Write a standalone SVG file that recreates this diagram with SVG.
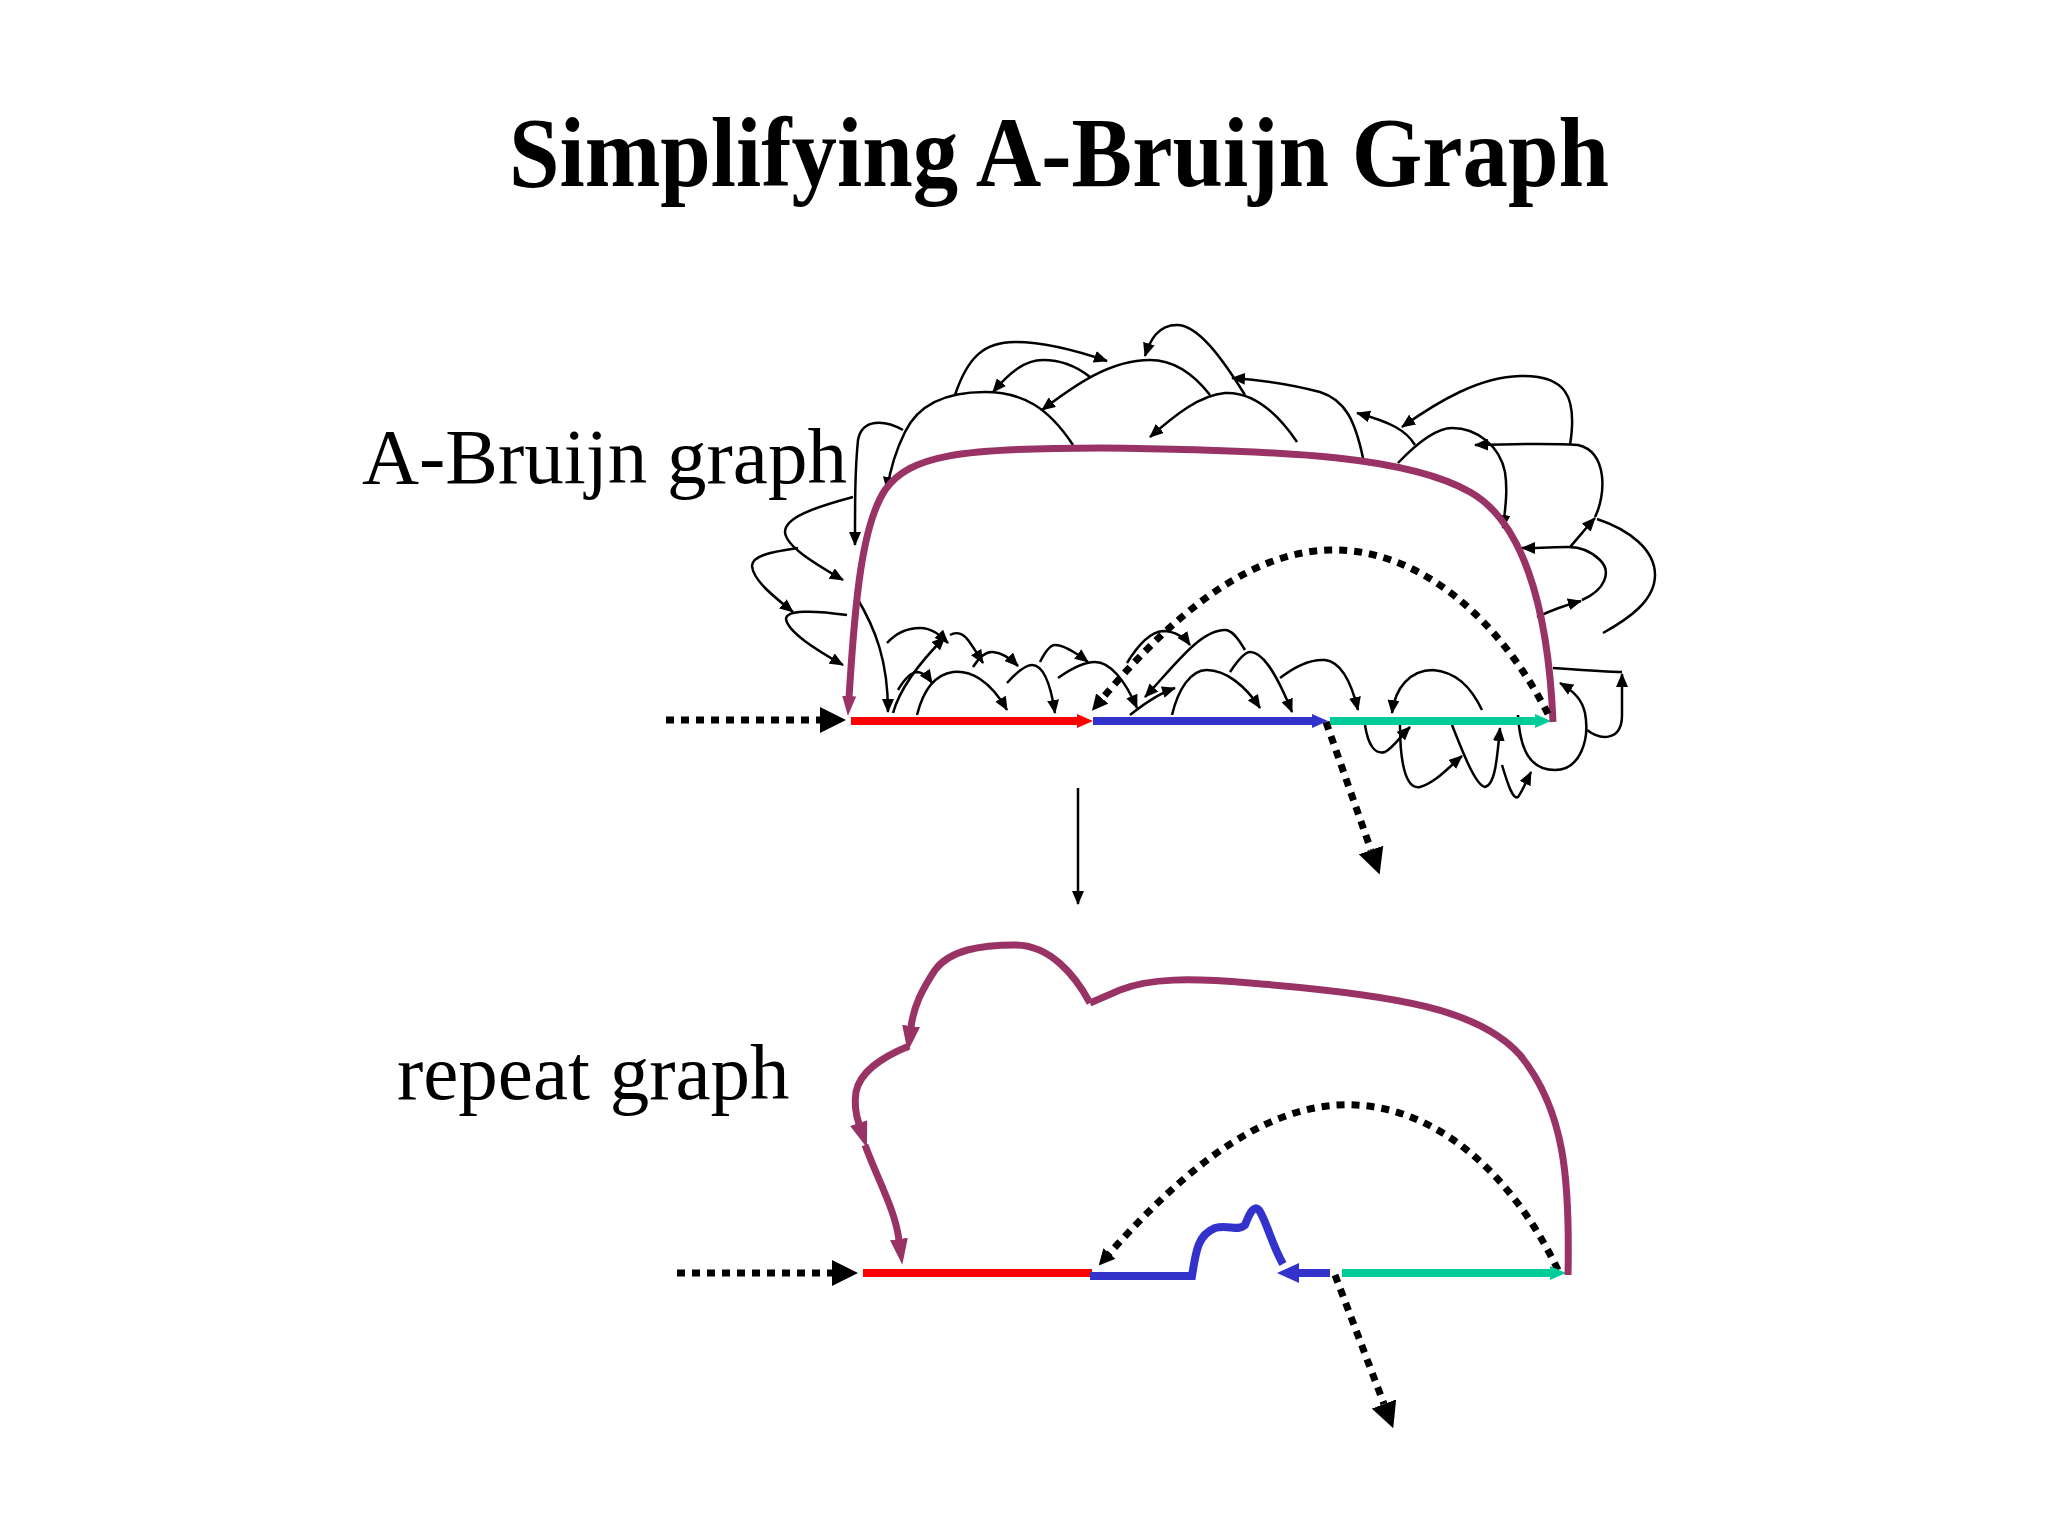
<svg xmlns="http://www.w3.org/2000/svg" width="2048" height="1536" viewBox="0 0 2048 1536">
<defs>
<style>
.t{fill:none;stroke:#000;stroke-width:2.5;marker-end:url(#ah)}
.tn{fill:none;stroke:#000;stroke-width:2.5}
.dot{fill:none;stroke:#000;stroke-width:7;stroke-dasharray:8 7}
.pur{fill:none;stroke:#993366;stroke-width:7}
.lbl{font-family:"Liberation Serif","Times New Roman",serif;font-size:79px;fill:#000}
</style>
<marker id="ah" viewBox="0 0 14 12" refX="13" refY="6" markerWidth="14" markerHeight="12" markerUnits="userSpaceOnUse" orient="auto"><path d="M0,0 L14,6 L0,12 z" fill="#000"/></marker>
<marker id="ahd" viewBox="0 0 26 26" refX="0" refY="13" markerWidth="26" markerHeight="26" markerUnits="userSpaceOnUse" orient="auto"><path d="M0,0 L26,13 L0,26 z" fill="#000"/></marker>
<marker id="ahs" viewBox="0 0 16 16" refX="2" refY="8" markerWidth="16" markerHeight="16" markerUnits="userSpaceOnUse" orient="auto"><path d="M0,0 L16,8 L0,16 z" fill="#000"/></marker>
<marker id="ahp" viewBox="0 0 20 14" refX="2" refY="7" markerWidth="20" markerHeight="14" markerUnits="userSpaceOnUse" orient="auto"><path d="M0,0 L20,7 L0,14 z" fill="#993366"/></marker>
<marker id="ahp2" viewBox="0 0 26 18" refX="1" refY="9" markerWidth="26" markerHeight="18" markerUnits="userSpaceOnUse" orient="auto"><path d="M0,0 L26,9 L0,18 z" fill="#993366"/></marker>
<marker id="ahr" viewBox="0 0 16 14" refX="0" refY="7" markerWidth="16" markerHeight="14" markerUnits="userSpaceOnUse" orient="auto"><path d="M0,0 L16,7 L0,14 z" fill="#ff0000"/></marker>
<marker id="ahb" viewBox="0 0 16 14" refX="0" refY="7" markerWidth="16" markerHeight="14" markerUnits="userSpaceOnUse" orient="auto"><path d="M0,0 L16,7 L0,14 z" fill="#3333cc"/></marker>
<marker id="ahb2" viewBox="0 0 22 20" refX="1" refY="10" markerWidth="22" markerHeight="20" markerUnits="userSpaceOnUse" orient="auto"><path d="M0,0 L22,10 L0,20 z" fill="#3333cc"/></marker>
<marker id="aht" viewBox="0 0 16 14" refX="0" refY="7" markerWidth="16" markerHeight="14" markerUnits="userSpaceOnUse" orient="auto"><path d="M0,0 L16,7 L0,14 z" fill="#00cc99"/></marker>
</defs>
<rect width="2048" height="1536" fill="#fff"/>

<g id="title"><text x="1059" y="186" text-anchor="middle" textLength="1100" lengthAdjust="spacingAndGlyphs" style="font-family:'Liberation Serif','Times New Roman',serif;font-size:100px;font-weight:bold">Simplifying A-Bruijn Graph</text></g>
<g id="label-abruijn"><text class="lbl" x="362" y="483">A-Bruijn graph</text></g>
<g id="label-repeat"><text class="lbl" x="397" y="1099">repeat graph</text></g>

<g id="abruijn-graph">
<g id="thin-edges">
<path class="t" d="M955,395 C968,356 985,342 1015,342 C1045,342 1075,350 1107,361"/>
<path class="t" d="M1090,377 C1075,365 1060,360 1043,360 C1025,360 1010,372 993,392"/>
<path class="t" d="M1073,445 C1048,407 1022,392 985,392 C945,392 918,405 905,432 C895,452 890,470 887,490"/>
<path class="t" d="M1210,395 C1192,372 1172,360 1150,360 C1110,360 1075,385 1042,410"/>
<path class="t" d="M1297,442 C1272,405 1248,392 1225,393 C1200,395 1175,415 1150,437"/>
<path class="t" d="M1245,395 C1222,358 1198,325 1177,325 C1158,325 1150,340 1145,356"/>
<path class="t" d="M903,430 C885,420 862,418 858,440 C855,470 855,500 855,545"/>
<path class="t" d="M853,497 C812,508 785,518 785,532 C786,546 812,562 843,580"/>
<path class="t" d="M798,548 C770,552 752,556 752,566 C753,580 773,596 793,612"/>
<path class="t" d="M847,615 C812,610 786,610 786,619 C788,632 815,649 843,665"/>
<path class="t" d="M857,598 C875,628 888,660 888,712"/>
<path class="t" d="M1363,458 C1355,420 1345,400 1320,392 C1290,384 1262,380 1232,378"/>
<path class="t" d="M1415,445 C1406,430 1390,422 1357,413"/>
<path class="t" d="M1570,445 C1578,395 1565,375 1520,376 C1480,377 1440,400 1402,427"/>
<path class="t" d="M1398,463 C1420,440 1438,428 1452,428 C1478,428 1500,447 1505,472 C1508,492 1505,510 1503,528"/>
<path class="t" d="M1595,517 C1606,495 1608,452 1578,445 C1550,443 1510,444 1475,445"/>
<path class="t" d="M1582,600 C1605,590 1612,572 1600,560 C1590,550 1580,547 1568,547 C1555,547 1540,548 1522,548"/>
<path class="t" d="M1570,547 C1578,538 1586,528 1595,518"/>
<path class="t" d="M1537,617 C1552,610 1566,605 1581,601"/>
<path class="tn" d="M1603,633 C1630,618 1655,600 1655,575 C1655,550 1630,530 1597,519"/>
<path class="tn" d="M1553,668 C1580,670 1605,672 1622,672"/>
<path class="t" d="M1587,730 C1600,740 1622,742 1622,715 L1622,674"/>
<path class="t" d="M1518,715 C1520,750 1530,770 1555,770 C1580,770 1590,740 1585,713 C1582,700 1575,692 1560,683"/>
<path class="t" d="M1482,710 C1470,685 1455,672 1433,670 C1410,670 1395,688 1392,713"/>
<path class="t" d="M1365,725 C1368,745 1375,755 1385,752 C1393,748 1400,737 1410,727"/>
<path class="t" d="M1400,725 C1400,760 1405,790 1420,787 C1435,783 1448,768 1462,756"/>
<path class="t" d="M1452,725 C1462,750 1475,785 1485,787 C1495,785 1497,760 1500,728"/>
<path class="t" d="M1502,765 C1508,785 1513,800 1518,797 C1522,792 1526,782 1531,772"/>
<path class="t" d="M887,643 C897,632 908,628 920,628 C932,628 940,635 948,643"/>
<path class="t" d="M893,713 C898,695 910,672 945,637"/>
<path class="t" d="M950,635 C955,632 962,632 968,640 C974,648 978,655 983,663"/>
<path class="t" d="M973,667 C980,656 986,651 993,652 C1003,653 1010,658 1018,666"/>
<path class="t" d="M898,690 C905,678 912,672 918,672 C924,673 928,677 932,683"/>
<path class="t" d="M917,715 C922,695 932,675 953,672 C970,670 990,680 1007,710"/>
<path class="t" d="M1007,683 C1017,672 1025,665 1032,665 C1042,665 1050,680 1055,713"/>
<path class="t" d="M1040,662 C1045,652 1050,645 1055,645 C1062,645 1075,652 1088,662"/>
<path class="t" d="M1058,678 C1072,668 1085,662 1095,662 C1110,662 1125,680 1137,708"/>
<path class="t" d="M1127,663 C1138,645 1150,632 1163,631 C1175,631 1185,638 1190,645"/>
<path class="t" d="M1130,715 C1145,703 1160,693 1175,688"/>
<path class="t" d="M1245,650 C1238,638 1232,630 1225,630 C1200,630 1175,665 1145,697"/>
<path class="t" d="M1172,715 C1178,690 1190,670 1207,670 C1225,670 1245,685 1260,708"/>
<path class="t" d="M1230,672 C1238,660 1245,652 1250,652 C1262,652 1275,670 1292,712"/>
<path class="t" d="M1280,678 C1298,664 1312,659 1325,660 C1342,662 1352,685 1358,710"/>
</g>
<g id="edge-red-1"><path d="M851,721 L1077,721" stroke="#ff0000" stroke-width="8" marker-end="url(#ahr)"/></g>
<g id="edge-blue-1"><path d="M1093,721 L1312,721" stroke="#3333cc" stroke-width="8" marker-end="url(#ahb)"/></g>
<g id="edge-teal-1"><path d="M1330,721 L1535,721" stroke="#00cc99" stroke-width="8" marker-end="url(#aht)"/></g>
<g id="edge-purple-1"><path class="pur" d="M1553,722 C1548,600 1520,520 1470,492 C1410,458 1300,450 1100,448 C960,448 910,455 885,490 C862,525 855,600 849,698" marker-end="url(#ahp)"/></g>
<g id="edge-dotted-1">
<path class="dot" d="M666,720 L820,720" marker-end="url(#ahd)"/>
<path class="dot" d="M1548,714 C1500,620 1420,548 1330,550 C1240,552 1160,630 1101,700" marker-end="url(#ahs)"/>
<path class="dot" d="M1326,722 L1371,850" marker-end="url(#ahd)"/>
</g>
</g>

<g id="connectors"><path d="M1078,788 L1078,904" stroke="#000" stroke-width="2.5" marker-end="url(#ah)"/></g>

<g id="repeat-graph">
<g id="edge-dotted-2">
<path class="dot" d="M677,1273 L832,1273" marker-end="url(#ahd)"/>
<path class="dot" d="M1558,1270 C1510,1170 1430,1100 1338,1105 C1250,1110 1170,1185 1108,1255" marker-end="url(#ahs)"/>
<path class="dot" d="M1335,1275 L1384,1404" marker-end="url(#ahd)"/>
</g>
<g id="edge-red-2"><path d="M863,1273 L1092,1273" stroke="#ff0000" stroke-width="8"/></g>
<g id="edge-blue-2">
<path d="M1090,1276 L1192,1276 C1196,1250 1198,1235 1215,1228 C1228,1224 1238,1232 1245,1225 C1250,1212 1254,1205 1259,1210 C1266,1220 1272,1245 1283,1264" fill="none" stroke="#3333cc" stroke-width="8"/>
<path d="M1330,1273 L1298,1273" stroke="#3333cc" stroke-width="8" marker-end="url(#ahb2)"/>
</g>
<g id="edge-teal-2"><path d="M1342,1273 L1550,1273" stroke="#00cc99" stroke-width="8" marker-end="url(#aht)"/></g>
<g id="edge-purple-2">
<path class="pur" d="M1568,1275 C1570,1180 1565,1110 1520,1055 C1480,1010 1400,995 1250,983 C1190,978 1150,978 1120,990 L1090,1003"/>
<path class="pur" d="M1090,1003 C1075,975 1050,945 1015,945 C980,945 950,950 935,970 C922,990 914,1005 911,1027" marker-end="url(#ahp2)"/>
<path class="pur" d="M909,1046 C880,1058 860,1072 856,1092 C854,1105 856,1115 859,1124" marker-end="url(#ahp2)"/>
<path class="pur" d="M865,1145 C880,1185 895,1210 899,1240" marker-end="url(#ahp2)"/>
</g>
</g>
</svg>
